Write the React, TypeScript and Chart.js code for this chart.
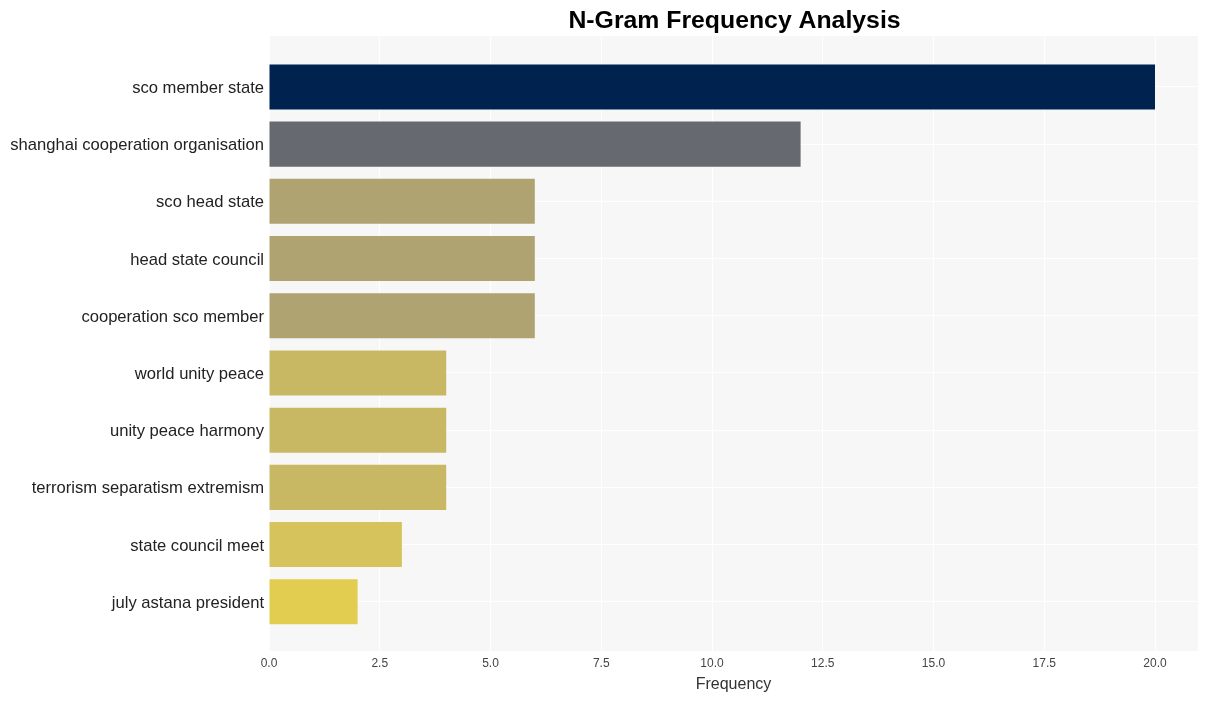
import React, { useEffect, useRef } from "react";
import { Chart, registerables } from "chart.js";

Chart.register(...registerables);

const categories = [
  "sco member state",
  "shanghai cooperation organisation",
  "sco head state",
  "head state council",
  "cooperation sco member",
  "world unity peace",
  "unity peace harmony",
  "terrorism separatism extremism",
  "state council meet",
  "july astana president",
];
const frequencies = [20, 12, 6, 6, 6, 4, 4, 4, 3, 2];
const barColors = [
  "#00224e",
  "#666970",
  "#afa372",
  "#afa372",
  "#afa372",
  "#c8b864",
  "#c8b864",
  "#c8b864",
  "#d6c35c",
  "#e3cd50",
];
const xTicks = [0, 2.5, 5, 7.5, 10, 12.5, 15, 17.5, 20];
const titleText = "N-Gram Frequency Analysis";
const xTitle = "Frequency";

const bgPlugin = {
  id: "panelBg",
  beforeDraw(chart: any) {
    const { ctx, chartArea } = chart;
    ctx.save();
    ctx.fillStyle = "#ffffff";
    ctx.fillRect(0, 0, chart.width, chart.height);
    ctx.fillStyle = "#f7f7f7";
    ctx.fillRect(chartArea.left, chartArea.top, chartArea.right - chartArea.left, chartArea.bottom - chartArea.top);
    ctx.restore();
  },
  afterDraw(chart: any) {
    const { ctx, chartArea } = chart;
    ctx.save();
    ctx.fillStyle = "#000000";
    ctx.font = "bold 24.8px 'Liberation Sans', Arial, sans-serif";
    ctx.textAlign = "center";
    ctx.textBaseline = "middle";
    ctx.fillText(titleText, (chartArea.left + chartArea.right) / 2 + 1, 21);
    ctx.restore();
  },
};

export default function App() {
  const ref = useRef<HTMLCanvasElement | null>(null);
  useEffect(() => {
    if (!ref.current) return;
    const chart = new Chart(ref.current, {
      type: "bar",
      data: {
        labels: categories,
        datasets: [
          {
            data: frequencies.map((v, i) => ({ x: v, y: i })) as any,
            backgroundColor: barColors,
            borderWidth: 0,
            barPercentage: 0.787,
            categoryPercentage: 1,
          },
        ],
      },
      options: {
        indexAxis: "y",
        animation: false,
        responsive: false,
        maintainAspectRatio: false,
        layout: { padding: { top: 36, right: 11, bottom: 0, left: 0 } },
        plugins: {
          legend: { display: false },
          tooltip: { enabled: false },
          title: { display: false },
        },
        scales: {
          x: {
            type: "linear",
            min: 0,
            max: 20.97,
            offset: false,
            afterBuildTicks(scale: any) {
              scale.ticks = xTicks.map((v) => ({ value: v }));
            },
            afterFit(scale: any) {
              scale.height = 50;
            },
            grid: { color: "#ffffff", lineWidth: 1, drawTicks: false },
            border: { display: false },
            ticks: {
              padding: 5,
              color: "#444444",
              font: { size: 12, family: "'Liberation Sans', Arial, sans-serif" },
              callback: (v: any) => Number(v).toFixed(1),
            },
            title: {
              display: true,
              text: xTitle,
              color: "#333333",
              padding: { top: 0, bottom: 7 },
              font: { size: 16, family: "'Liberation Sans', Arial, sans-serif" },
            },
          },
          y: {
            type: "linear",
            reverse: true,
            offset: false,
            min: -0.89,
            max: 9.86,
            afterBuildTicks(scale: any) {
              scale.ticks = categories.map((_, i) => ({ value: i }));
            },
            afterFit(scale: any) {
              scale.width = 269;
            },
            grid: { color: "#ffffff", lineWidth: 1, drawTicks: false, offset: false },
            border: { display: false },
            ticks: {
              padding: 5,
              labelOffset: 1.5,
              color: "#222222",
              font: { size: 16.6, family: "'Liberation Sans', Arial, sans-serif" },
              callback: (v: any) => categories[Math.round(Number(v))] ?? "",
            },
          },
        },
      },
      plugins: [bgPlugin],
    } as any);
    return () => chart.destroy();
  }, []);
  return (
    <div style={{ position: "fixed", left: 0, top: 0, width: 1209, height: 701 }}>
      <canvas ref={ref} width={1209} height={701} style={{ width: 1209, height: 701 }} />
    </div>
  );
}
